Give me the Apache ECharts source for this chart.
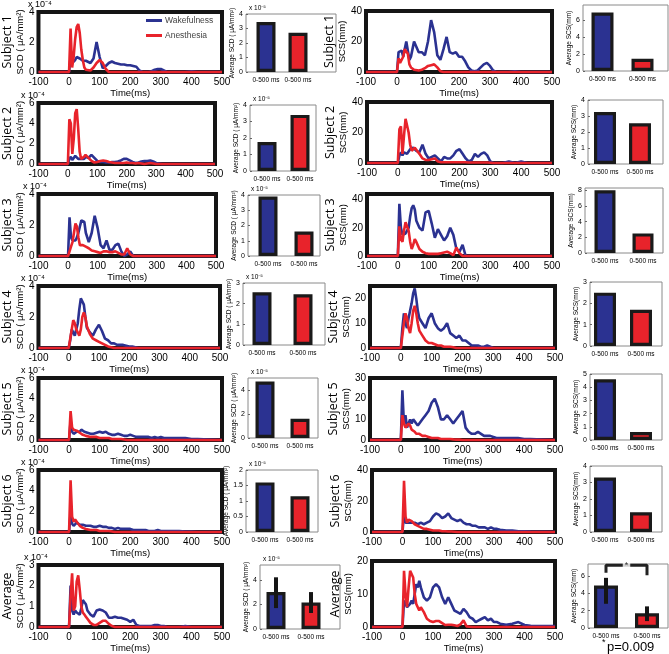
<!DOCTYPE html>
<html><head><meta charset="utf-8">
<script src="https://cdn.jsdelivr.net/npm/echarts@6/dist/echarts.min.js"></script>
<style>html,body{margin:0;padding:0;background:#fff}#c{width:669px;height:654px}</style>
</head><body><div id="c"></div><script>
// ---------------- DATA ----------------
const times = [-100, 0,5,10,15,20,25,30,35,40,45,50,55,60, 70,80,90,100,110,120,130,140,150,160, 170,180,190,200,210,220,230,240,250,260, 270,280,290,300,310,320, 340,360,380,400,420,500];
const rowNames = ['Subject 1','Subject 2','Subject 3','Subject 4','Subject 5','Subject 6','Average'];
const barCategories = ['0-500 ms','0-500 ms'];
const seriesNames = ['Wakefulness','Anesthesia'];

// SCD (x 10^-4 µA/mm²)
const scdWake1 = [0, 0,1.0,0.6,0.5,0.8,1.0,1.1,0.9,0.8,0.75,0.75,0.75,0.7, 0.6,0.9,2.0,1.0,0.25,0.4,0.6,0.7,0.6,0.55, 0.5,0.5,0.45,0.45,0.4,0.35,0.1,0,0,0, 0.05,0.15,0.2,0.2,0.1,0, 0,0,0,0.05,0,0];
const scdAnes1 = [0, 0,2.9,0.3,1.0,2.2,3.0,3.2,2.6,1.5,0.8,0.3,0.15,0.1, 0.1,0.3,0.6,0.8,0.6,0.2,0,0,0,0, 0,0,0,0,0,0,0,0,0,0, 0,0,0,0,0,0, 0,0,0,0,0,0];
const scdWake2 = [0, 0,0.5,0.7,0.4,0.6,0.8,0.7,0.5,0.6,0.5,0.6,0.5,0.7, 0.6,0.9,0.6,0.3,0.2,0.2,0.15,0.15,0.2,0.2, 0.25,0.35,0.5,0.5,0.35,0.2,0.1,0.15,0.25,0.3, 0.3,0.35,0.25,0.1,0.05,0, 0,0,0,0,0,0];
const scdAnes2 = [0, 0,4.4,4.0,1.0,2.5,5.0,5.4,3.5,1.2,0.5,0.4,0.7,0.9, 0.6,0.3,0.15,0.2,0.3,0.35,0.3,0.2,0.15,0.1, 0.1,0.1,0.1,0.15,0.1,0.1,0.05,0.1,0.05,0, 0.05,0.1,0.05,0,0,0, 0,0,0,0,0,0];
const scdWake3 = [0, 0,2.5,1.2,1.0,1.0,1.0,1.2,1.5,1.9,2.3,2.4,2.2,1.5, 0.9,1.5,2.6,1.8,0.7,0.5,1.0,0.4,0.4,0.7, 0.8,0.3,0,0.1,0.3,0,0,0,0,0, 0,0,0,0,0,0, 0,0,0,0,0,0];
const scdAnes3 = [0, 0,0.3,0.6,0.9,1.5,2.1,1.9,1.2,0.7,0.6,0.7,0.8,0.6, 0.5,0.35,0.3,0.25,0.2,0.3,0.3,0.25,0.25,0.3, 0.2,0.1,0.1,0.5,0.1,0,0,0,0,0, 0,0,0,0,0,0, 0,0,0,0,0,0];
const scdWake4 = [0, 0,0.5,1.2,1.0,0.8,1.2,1.6,2.5,3.2,3.3,2.8,2.0,1.3, 1.0,0.8,1.2,1.5,1.1,0.6,0.5,0.3,0.3,0.2, 0.2,0.2,0.15,0.1,0.1,0.05,0,0,0,0, 0,0,0,0,0,0, 0,0,0,0,0,0];
const scdAnes4 = [0, 0,0.6,1.2,1.8,1.6,1.2,1.0,0.8,1.2,2.0,2.3,2.0,1.4, 0.9,0.6,0.5,0.4,0.3,0.2,0.1,0.05,0,0, 0,0,0,0,0,0,0,0,0,0, 0,0,0,0,0,0, 0,0,0,0,0,0];
const scdWake5 = [0, 0,1.8,0.8,0.6,0.7,0.8,0.9,0.8,1.0,0.9,0.8,0.7,0.7, 0.6,0.6,0.7,0.8,0.7,0.8,0.6,0.5,0.5,0.6, 0.5,0.4,0.4,0.5,0.4,0.3,0.3,0.3,0.3,0.3, 0.2,0.3,0.2,0.3,0.2,0.2, 0.2,0.2,0.2,0.1,0.1,0];
const scdAnes5 = [0, 0,2.8,1.2,1.0,1.0,0.9,0.8,0.7,0.6,0.5,0.5,0.4,0.4, 0.3,0.3,0.3,0.2,0.2,0.2,0.2,0.1,0.1,0.1, 0.1,0.05,0,0,0,0,0,0,0,0, 0,0,0,0,0,0, 0,0,0,0,0,0];
const scdWake6 = [0, 0,1.8,0.8,0.6,0.7,0.9,0.8,0.7,0.8,0.7,0.6,0.6,0.7, 0.6,0.5,0.5,0.6,0.5,0.5,0.4,0.4,0.3,0.4, 0.3,0.3,0.3,0.3,0.2,0.2,0.2,0.2,0.2,0.1, 0.1,0.1,0.2,0.1,0.1,0.1, 0.1,0.1,0.05,0.05,0,0];
const scdAnes6 = [0, 0,5.0,1.5,1.0,1.2,1.0,0.8,0.6,0.5,0.4,0.4,0.3,0.3, 0.2,0.2,0.2,0.1,0.1,0.1,0.1,0.05,0,0, 0,0,0,0,0,0,0,0,0,0, 0,0,0,0,0,0, 0,0,0,0,0,0];
const scdWake7 = [0, 0,2.0,0.8,0.6,0.8,0.7,0.7,0.6,0.9,1.3,1.2,1.1,0.8, 0.6,0.5,0.8,0.85,0.8,0.7,0.45,0.45,0.5,0.45, 0.45,0.4,0.35,0.25,0.35,0.1,0.05,0.05,0.05,0.05, 0.05,0.1,0.1,0.05,0.05,0, 0,0,0.05,0,0,0];
const scdAnes7 = [0, 0,1.5,2.6,0.8,1.0,2.2,2.5,1.8,1.0,0.7,0.6,0.5,0.4, 0.2,0.1,0.1,0.2,0.3,0.3,0.15,0.05,0,0, 0,0,0,0,0,0,0,0,0,0, 0,0,0,0,0,0, 0,0,0,0,0,0];

// SCS (mm)
const scsWake1 = [0, 0,13,12,14,10,15,20,14,8,10,15,20,20, 13,13,11,20,34,26,11,8,15,23, 13,12,13,10,10,7,3,1,0.5,1, 3,5,6,4,1,0, 0,0,0.5,0,0,0];
const scsAnes1 = [0, 0,9,6,5,10,15,16,12,5,3,2,1.5,1, 1,1.5,2.5,4,4.5,5,3,0.5,0,0, 0,0,0,0,0,0,0,0,0,0, 0,0,0,0,0,0, 0,0,0,0,0,0];
const scsWake2 = [0, 0,5,7,5,7,8,6,6,9,10,10,9,8, 7,12,6,3,4,5,3,1,4,3, 3,5,8,9,6,3,1,2,6,4, 6,7,5,1,0,0, 0,1,0,1,0,0];
const scsAnes2 = [0, 0,22,24,6,18,29,29,20,12,8,9,10,9, 6,3,2,2,2.5,3,1,0.5,0.5,0.5, 0.5,0.5,0.5,0.5,0.5,0.5,0.3,0.3,0.3,0.3, 0.3,0.3,0.3,0.2,0,0, 0,0,0,0,0,0];
const scsWake3 = [0, 0,37,20,15,16,16,16,20,28,34,36,33,25, 20,18,31,32,23,13,19,15,11,14, 20,15,5,3,8,0,0,0,0,0, 0,0,0,0,0,0, 0,0,0,0,0,0];
const scsAnes3 = [0, 0,21,12,10,18,24,25,18,10,5,8,12,10, 5,3,2,1.5,1.5,1.5,1.5,2,2.5,3, 2,0.5,6,2,0,0,0,0,0,0, 0,0,0,0,0,0, 0,0,0,0,0,0];
const scsWake4 = [0, 0,8,14,10,8,12,15,18,22,24,20,15,12, 10,8,12,14,10,8,7,8,10,6, 5,4,5,3,3,2,1,1,1,0.5, 0.5,1,0.5,0,0,0, 0,0,0,0,0,0];
const scsAnes4 = [0, 0,5,10,14,12,8,6,10,15,17,14,10,7, 5,3,2,2,1.5,1,1,0.5,0.5,0.5, 0.3,0,0,0,0,0,0,0,0,0, 0,0,0,0,0,0, 0,0,0,0,0,0];
const scsWake5 = [0, 0,24,8,12,6,8,10,8,10,9,8,7,8, 10,12,14,18,20,16,10,10,12,10, 8,10,12,14,6,4,3,3,4,3, 2,2,2,1.5,1,1, 1,1,1,0.5,0.5,0];
const scsAnes5 = [0, 0,12,8,6,6,8,7,5,5,4,3,3,3, 2,2,1.5,1,1,1,0.5,0.5,0.5,0.5, 0.3,0.2,0.2,0,0,0,0,0,0,0, 0,0,0,0,0,0, 0,0,0,0,0,0];
const scsWake6 = [0, 0,12,6,5,6,7,6,5,6,6,5,5,6, 5,6,7,10,12,11,9,10,12,9, 8,7,8,6,5,5,4,4,3,3, 3,2,3,2,2,1.5, 1,1,0.5,0.5,0.3,0];
const scsAnes6 = [0, 0,33,10,6,8,9,7,6,5,4,4,3,3, 2,2,1.5,1,1,1,0.5,0.5,0.3,0.3, 0.2,0,0,0,0,0,0,0,0,0, 0,0,0,0,0,0, 0,0,0,0,0,0];
const scsWake7 = [0, 0,8,7,6,6,7,8,7,10,13,12,14,12, 9,8,9,12,13,12,9,7,9,7, 5,4.5,4,5.5,4.5,3,2.5,1.5,2,2.5, 3,2,2.5,1.5,1.5,1, 0.7,1,1.5,0.6,0.4,0.3];
const scsAnes7 = [0, 0,17,10,6,12,17,17.5,15,10,7,6,5,6, 4.5,2.5,1.8,1.5,1.8,1.8,1.2,0.6,0.7,0.7, 0.5,0.3,0.8,2,0.2,0.1,0,0,0,0, 0,0,0,0,0,0, 0,0,0,0,0,0];

// Line-plot y axes
const scdMax = [4,6,4,4,6,6,3];
const scdStep = [2,2,2,2,2,2,1];
const scsMax = [40,40,44,25,30,40,20];
const scsStep = [20,20,20,10,10,20,10];

// Average bars (0-500 ms)
const barScdWake = [3.45, 1.75, 3.9, 2.55, 4.7, 1.6, 3.0];   // x 10^-5
const barScdAnes = [2.7, 3.4, 1.6, 2.45, 1.6, 1.15, 2.15];
const barScsWake = [6.9, 3.25, 8.0, 2.5, 4.6, 3.3, 4.9];
const barScsAnes = [1.45, 2.55, 2.5, 1.7, 0.6, 1.2, 1.7];
const barScdMax = [4,4,4,3,5,2,5.2];
const barScdStep = [1,1,1,1,2,0.5,2];
const barScsMax = [7.8,4,8.3,3,5,4,7.4];
const barScsStep = [2,1,2,1,1,1,2];
// error bars for the average row: [low, high]
const avgScdErrWake = [1.7, 4.2];
const avgScdErrAnes = [1.3, 3.0];
const avgScsErrWake = [2.8, 5.8];
const avgScsErrAnes = [0.8, 2.5];
// significance bracket (SCS average): left foot, top, right foot
const sigBracket = [6.4, 7.25, 6.1];
const pText = 'p=0.009';

// ---------------- LAYOUT ----------------
const scdWake = [scdWake1,scdWake2,scdWake3,scdWake4,scdWake5,scdWake6,scdWake7];
const scdAnes = [scdAnes1,scdAnes2,scdAnes3,scdAnes4,scdAnes5,scdAnes6,scdAnes7];
const scsWake = [scsWake1,scsWake2,scsWake3,scsWake4,scsWake5,scsWake6,scsWake7];
const scsAnes = [scsAnes1,scsAnes2,scsAnes3,scsAnes4,scsAnes5,scsAnes6,scsAnes7];

const boxC1 = [[37,12,222,72],[30,103,215,164],[32,194,216,256],[30,286,220,348],[30,378,222,440],[30,470,222,532],[33,565,222,627]];
const boxC3 = [[366,11,552,72],[367,102,552,163],[367,194,552,256],[370,286,555,348],[370,378,555,440],[372,470,555,532],[372,561,555,627]];
const boxC2 = [[246,14,336,72,266,298,22],[250,105,316,171,267,300,22],[248,195,320,256,268,304,22],[243,283,325,345,262,303,22],[248,378,318,438,265,300,22],[246,470,318,532,265,300,22],[260,565,340,629,276,311,22]];
const boxC4 = [[583,5,668,71,602.5,642.5,25],[588,100,663,164,605,640,25],[585,188,663,253,605,643,24],[590,282,662,346,605,641,25],[590,374,662,440,605,641,25],[590,466,662,532,605,641,25],[588,564,668,628,606,647,27]];

const BLUE = '#2B3291', RED = '#E8232B';
const FONT = 'Liberation Sans';
const grid = [], xAxis = [], yAxis = [], series = [], graphic = [];
const isMult = (m, s) => Math.abs(m / s - Math.round(m / s)) < 1e-6;

function addLine(box, rowName, qty, wake, anes, ymax, ystep, nameGap, expo) {
  const gi = grid.length;
  grid.push({left: box[0], top: box[1], width: box[2] - box[0], height: box[3] - box[1],
    show: true, borderColor: '#151515', borderWidth: 4, backgroundColor: '#fff'});
  xAxis.push({gridIndex: gi, type: 'value', min: -100, max: 500, interval: 100,
    axisLine: {show: false}, axisTick: {show: false}, splitLine: {show: false},
    axisLabel: {fontSize: 10, margin: 5, color: '#000', fontFamily: FONT},
    name: 'Time(ms)', nameLocation: 'middle', nameGap: 15,
    nameTextStyle: {fontSize: 9.5, color: '#000', fontFamily: FONT}});
  yAxis.push({gridIndex: gi, type: 'value', min: 0, max: ymax, interval: ystep,
    axisLine: {show: false}, axisTick: {show: false}, splitLine: {show: false},
    axisLabel: {fontSize: 10, margin: 4, color: '#000', fontFamily: FONT, showMaxLabel: isMult(ymax, ystep)},
    name: '{a|' + rowName + '}\n{b|' + qty + '}', nameLocation: 'middle', nameRotate: 90, nameGap: nameGap,
    nameTextStyle: {color: '#000', rich: {a: {fontSize: 12.5, fontFamily: 'Open Sans', lineHeight: 14},
      b: {fontSize: 9.5, fontFamily: FONT, lineHeight: 11}}}});
  const mk = (name, arr, color) => ({type: 'line', name: name, xAxisIndex: gi, yAxisIndex: gi,
    data: times.map((t, i) => [t, arr[i]]), showSymbol: false, symbol: 'none', clip: false,
    lineStyle: {width: 2.6, color: color}, itemStyle: {color: color}});
  series.push(mk(seriesNames[0], wake, BLUE));
  series.push(mk(seriesNames[1], anes, RED));
  if (expo) graphic.push({type: 'text', left: box[0] - 9, top: box[1] - 12,
    style: {text: 'x 10⁻⁴', fontSize: 9, fill: '#000', fontFamily: FONT}});
  return gi;
}

function addBar(b, qty, wv, av, ymax, ystep, expo, errW, errA) {
  const gi = grid.length;
  const unit = b[5] - b[4];
  const xmin = 1 - (b[4] - b[0]) / unit, xmax = 2 + (b[2] - b[5]) / unit;
  grid.push({left: b[0], top: b[1], width: b[2] - b[0], height: b[3] - b[1],
    show: true, borderColor: '#8a8a8a', borderWidth: 1, backgroundColor: '#fff'});
  xAxis.push({gridIndex: gi, type: 'value', min: xmin, max: xmax,
    axisLine: {show: false}, splitLine: {show: false},
    axisTick: {show: true, inside: true, length: 2, customValues: [1, 2], lineStyle: {color: '#666'}},
    axisLabel: {fontSize: 6.5, margin: 5, color: '#000', fontFamily: FONT, customValues: [1, 2],
      formatter: v => barCategories[Math.round(v) - 1] || ''}});
  yAxis.push({gridIndex: gi, type: 'value', min: 0, max: ymax, interval: ystep,
    axisLine: {show: false}, splitLine: {show: false},
    axisTick: {show: true, inside: true, length: 2, lineStyle: {color: '#666'}},
    axisLabel: {fontSize: 7, margin: 3, color: '#000', fontFamily: FONT, showMaxLabel: isMult(ymax, ystep)},
    name: qty, nameLocation: 'middle', nameRotate: 90, nameGap: 10,
    nameTextStyle: {fontSize: 6.5, color: '#000', fontFamily: FONT}});
  series.push({type: 'bar', xAxisIndex: gi, yAxisIndex: gi, barWidth: b[6] - 3,
    data: [{value: [1, wv], itemStyle: {color: BLUE}}, {value: [2, av], itemStyle: {color: RED}}],
    itemStyle: {borderColor: '#1a1a1a', borderWidth: 3.2}});
  if (errW) {
    series.push({type: 'custom', xAxisIndex: gi, yAxisIndex: gi, z: 5,
      data: [[1, errW[0], errW[1]], [2, errA[0], errA[1]]],
      encode: {x: 0, y: [1, 2]},
      renderItem: (params, api) => {
        const p1 = api.coord([api.value(0), api.value(1)]);
        const p2 = api.coord([api.value(0), api.value(2)]);
        return {type: 'line', shape: {x1: p1[0], y1: p1[1], x2: p2[0], y2: p2[1]},
          style: {stroke: '#151515', lineWidth: 4}};
      }});
  }
  if (expo) graphic.push({type: 'text', left: b[0] + 3, top: b[1] - 9,
    style: {text: 'x 10⁻⁵', fontSize: 6.5, fill: '#000', fontFamily: FONT}});
  return gi;
}

for (let r = 0; r < 7; r++) {
  addLine(boxC1[r], rowNames[r], 'SCD ( μA/mm²)', scdWake[r], scdAnes[r], scdMax[r], scdStep[r], 8, true);
  const last = r === 6;
  addBar(boxC2[r], 'Average SCD ( μA/mm²)', barScdWake[r], barScdAnes[r], barScdMax[r], barScdStep[r], true,
    last ? avgScdErrWake : null, last ? avgScdErrAnes : null);
  addLine(boxC3[r], rowNames[r], 'SCS(mm)', scsWake[r], scsAnes[r], scsMax[r], scsStep[r], 14, false);
  const gi = addBar(boxC4[r], 'Average SCS(mm)', barScsWake[r], barScsAnes[r], barScsMax[r], barScsStep[r], false,
    last ? avgScsErrWake : null, last ? avgScsErrAnes : null);
  if (last) {
    series.push({type: 'line', xAxisIndex: gi, yAxisIndex: gi, z: 6, symbol: 'none', clip: false,
      data: [[1, sigBracket[0]], [1, sigBracket[1]], [2, sigBracket[1]], [2, sigBracket[2]]],
      lineStyle: {color: '#222', width: 3}});
    series.push({type: 'scatter', xAxisIndex: gi, yAxisIndex: gi, z: 7, symbolSize: 0,
      data: [[1.5, sigBracket[1]]],
      label: {show: true, position: 'inside', formatter: '*', fontSize: 9, color: '#000',
        backgroundColor: '#fff', padding: [0, 2, 0, 2]}});
  }
}
graphic.push({type: 'text', left: 602, top: 638, style: {text: '*', fontSize: 9, fill: '#000', fontFamily: FONT}});
graphic.push({type: 'text', left: 607, top: 641, style: {text: pText, fontSize: 13, fill: '#000', fontFamily: FONT}});

const chart = echarts.init(document.getElementById('c'));
chart.setOption({
  animation: false,
  textStyle: {fontFamily: FONT},
  legend: {data: seriesNames, left: 141, top: 11, orient: 'vertical', icon: 'rect',
    itemWidth: 16, itemHeight: 3, itemGap: 6, itemStyle: {borderWidth: 0},
    textStyle: {fontSize: 8.5, color: '#444', fontFamily: FONT, padding: [0, 0, 0, -2]},
    selectedMode: false},
  grid, xAxis, yAxis, series, graphic
});
</script></body></html>
